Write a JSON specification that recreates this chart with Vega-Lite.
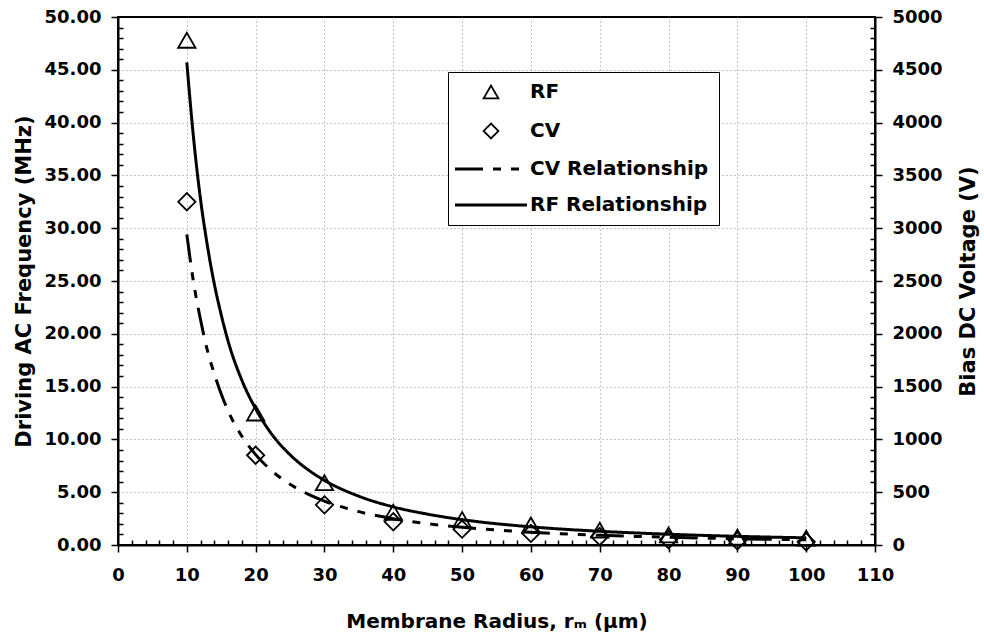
{
  "$schema": "https://vega.github.io/schema/vega-lite/v6.json",
  "width": 757,
  "height": 528,
  "autosize": {"type": "none"},
  "padding": {"left": 118, "top": 17, "right": 109, "bottom": 96},
  "background": "white",
  "config": {
    "font": "DejaVu Sans",
    "view": {"stroke": "black", "strokeWidth": 2},
    "axis": {
      "labelFont": "DejaVu Sans",
      "labelFontWeight": "bold",
      "labelFontSize": 18,
      "labelColor": "black",
      "labelOverlap": false,
      "labelFlush": false,
      "titleFont": "DejaVu Sans",
      "titleFontWeight": "bold",
      "titleFontSize": 21,
      "titleColor": "black",
      "domainColor": "black",
      "domainWidth": 2,
      "tickColor": "black",
      "tickWidth": 1.5,
      "tickCount": 200,
      "gridColor": "#8c8c8c",
      "gridDash": [1, 3],
      "gridWidth": 1
    }
  },
  "datasets": {
    "rf_measured": [
      {"r": 10, "freq": 47.8, "series": "RF"},
      {"r": 20, "freq": 12.5, "series": "RF"},
      {"r": 30, "freq": 5.9, "series": "RF"},
      {"r": 40, "freq": 3.1, "series": "RF"},
      {"r": 50, "freq": 2.4, "series": "RF"},
      {"r": 60, "freq": 1.9, "series": "RF"},
      {"r": 70, "freq": 1.4, "series": "RF"},
      {"r": 80, "freq": 0.95, "series": "RF"},
      {"r": 90, "freq": 0.75, "series": "RF"},
      {"r": 100, "freq": 0.65, "series": "RF"}
    ],
    "cv_measured": [
      {"r": 10, "volt": 3250, "series": "CV"},
      {"r": 20, "volt": 850, "series": "CV"},
      {"r": 30, "volt": 380, "series": "CV"},
      {"r": 40, "volt": 220, "series": "CV"},
      {"r": 50, "volt": 150, "series": "CV"},
      {"r": 60, "volt": 110, "series": "CV"},
      {"r": 70, "volt": 80, "series": "CV"},
      {"r": 80, "volt": 50, "series": "CV"},
      {"r": 90, "volt": 40, "series": "CV"},
      {"r": 100, "volt": 30, "series": "CV"}
    ],
    "rf_fit": [
      {"r": 10, "freq": 45.7, "series": "RF Relationship"},
      {"r": 11, "freq": 38.4, "series": "RF Relationship"},
      {"r": 12, "freq": 32.7, "series": "RF Relationship"},
      {"r": 13, "freq": 28.3, "series": "RF Relationship"},
      {"r": 14, "freq": 24.7, "series": "RF Relationship"},
      {"r": 15, "freq": 21.8, "series": "RF Relationship"},
      {"r": 16, "freq": 19.3, "series": "RF Relationship"},
      {"r": 18, "freq": 15.6, "series": "RF Relationship"},
      {"r": 20, "freq": 12.9, "series": "RF Relationship"},
      {"r": 22, "freq": 10.8, "series": "RF Relationship"},
      {"r": 25, "freq": 8.55, "series": "RF Relationship"},
      {"r": 28, "freq": 6.95, "series": "RF Relationship"},
      {"r": 30, "freq": 6.12, "series": "RF Relationship"},
      {"r": 35, "freq": 4.62, "series": "RF Relationship"},
      {"r": 40, "freq": 3.61, "series": "RF Relationship"},
      {"r": 45, "freq": 2.92, "series": "RF Relationship"},
      {"r": 50, "freq": 2.4, "series": "RF Relationship"},
      {"r": 60, "freq": 1.72, "series": "RF Relationship"},
      {"r": 70, "freq": 1.3, "series": "RF Relationship"},
      {"r": 80, "freq": 1.02, "series": "RF Relationship"},
      {"r": 90, "freq": 0.82, "series": "RF Relationship"},
      {"r": 100, "freq": 0.68, "series": "RF Relationship"}
    ],
    "cv_fit": [
      {"r": 10, "volt": 2940, "series": "CV Relationship"},
      {"r": 11, "volt": 2480, "series": "CV Relationship"},
      {"r": 12, "volt": 2130, "series": "CV Relationship"},
      {"r": 13, "volt": 1840, "series": "CV Relationship"},
      {"r": 14, "volt": 1620, "series": "CV Relationship"},
      {"r": 15, "volt": 1430, "series": "CV Relationship"},
      {"r": 16, "volt": 1270, "series": "CV Relationship"},
      {"r": 18, "volt": 1030, "series": "CV Relationship"},
      {"r": 20, "volt": 856, "series": "CV Relationship"},
      {"r": 22, "volt": 722, "series": "CV Relationship"},
      {"r": 25, "volt": 575, "series": "CV Relationship"},
      {"r": 28, "volt": 470, "series": "CV Relationship"},
      {"r": 30, "volt": 416, "series": "CV Relationship"},
      {"r": 35, "volt": 316, "series": "CV Relationship"},
      {"r": 40, "volt": 249, "series": "CV Relationship"},
      {"r": 45, "volt": 202, "series": "CV Relationship"},
      {"r": 50, "volt": 168, "series": "CV Relationship"},
      {"r": 60, "volt": 121, "series": "CV Relationship"},
      {"r": 70, "volt": 92, "series": "CV Relationship"},
      {"r": 80, "volt": 73, "series": "CV Relationship"},
      {"r": 90, "volt": 59, "series": "CV Relationship"},
      {"r": 100, "volt": 49, "series": "CV Relationship"}
    ]
  },
  "layer": [
    {
      "layer": [
        {
          "data": {"name": "rf_measured"},
          "mark": {"type": "point", "filled": false, "stroke": "black", "strokeWidth": 1.8, "size": 300, "opacity": 1},
          "encoding": {
            "x": {
              "field": "r", "type": "quantitative",
              "scale": {"domain": [0, 110], "nice": false},
              "axis": {
                "title": "Membrane Radius, rₘ (μm)",
                "titleFontSize": 20,
                "values": [0,2,4,6,8,10,12,14,16,18,20,22,24,26,28,30,32,34,36,38,40,42,44,46,48,50,52,54,56,58,60,62,64,66,68,70,72,74,76,78,80,82,84,86,88,90,92,94,96,98,100,102,104,106,108,110],
                "labelExpr": "datum.value % 10 === 0 ? format(datum.value, 'd') : ''",
                "tickSize": {"condition": {"test": "datum.value % 10 === 0", "value": 7}, "value": -5},
                "grid": true,
                "gridOpacity": {"condition": {"test": "datum.value % 10 === 0 && datum.value > 0 && datum.value < 110", "value": 1}, "value": 0},
                "labelPadding": 14,
                "titleY": 76,
                "titleBaseline": "middle"
              }
            },
            "y": {
              "field": "freq", "type": "quantitative",
              "scale": {"domain": [0, 50], "nice": false},
              "axis": {
                "title": "Driving AC Frequency (MHz)",
                "values": [0,1,2,3,4,5,6,7,8,9,10,11,12,13,14,15,16,17,18,19,20,21,22,23,24,25,26,27,28,29,30,31,32,33,34,35,36,37,38,39,40,41,42,43,44,45,46,47,48,49,50],
                "labelExpr": "datum.value % 5 === 0 ? format(datum.value, '.2f') : ''",
                "tickSize": {"condition": {"test": "datum.value % 5 === 0", "value": 7}, "value": -5},
                "grid": true,
                "gridOpacity": {"condition": {"test": "datum.value % 5 === 0 && datum.value > 0 && datum.value < 50", "value": 1}, "value": 0},
                "labelPadding": 10,
                "titleAngle": -90,
                "titleX": -94,
                "titleY": 264,
                "titleAlign": "center",
                "titleBaseline": "middle"
              }
            },
            "shape": {
              "field": "series", "type": "nominal",
              "scale": {"domain": ["RF", "CV", "CV Relationship", "RF Relationship"], "range": ["triangle-up", "diamond", "stroke", "stroke"]},
              "legend": {
                "title": null, "orient": "none", "legendX": 330, "legendY": 55,
                "strokeColor": "black", "fillColor": "white", "padding": 10, "rowPadding": 16,
                "symbolSize": 220, "symbolOffset": 23, "labelOffset": 29, "labelLimit": 400,
                "labelFont": "DejaVu Sans", "labelFontSize": 20, "labelFontWeight": "bold", "labelColor": "black",
                "symbolStrokeColor": "black", "symbolFillColor": "transparent", "symbolStrokeWidth": 2,
                "encode": {"symbols": {"update": {
                  "size": {"signal": "datum.value === 'CV Relationship' || datum.value === 'RF Relationship' ? 5184 : 220"},
                  "strokeWidth": {"signal": "datum.value === 'CV Relationship' || datum.value === 'RF Relationship' ? 3.2 : 1.8"}
                }}}
              }
            }
          }
        },
        {
          "data": {"name": "rf_fit"},
          "mark": {"type": "line", "color": "black", "strokeWidth": 3, "interpolate": "monotone"},
          "encoding": {
            "x": {"field": "r", "type": "quantitative"},
            "y": {"field": "freq", "type": "quantitative"},
            "strokeDash": {
              "field": "series", "type": "nominal",
              "scale": {"domain": ["RF", "CV", "CV Relationship", "RF Relationship"], "range": [[1, 0], [1, 0], [28, 10, 8, 10, 8, 10], [1, 0]]},
              "legend": {
                "title": null, "orient": "none", "legendX": 330, "legendY": 55,
                "strokeColor": "black", "fillColor": "white", "padding": 10, "rowPadding": 16,
                "symbolSize": 220, "symbolOffset": 23, "labelOffset": 29, "labelLimit": 400,
                "labelFont": "DejaVu Sans", "labelFontSize": 20, "labelFontWeight": "bold", "labelColor": "black",
                "symbolStrokeColor": "black", "symbolFillColor": "transparent", "symbolStrokeWidth": 2,
                "encode": {"symbols": {"update": {
                  "size": {"signal": "datum.value === 'CV Relationship' || datum.value === 'RF Relationship' ? 5184 : 220"},
                  "strokeWidth": {"signal": "datum.value === 'CV Relationship' || datum.value === 'RF Relationship' ? 3.2 : 1.8"}
                }}}
              }
            }
          }
        }
      ]
    },
    {
      "layer": [
        {
          "data": {"name": "cv_measured"},
          "mark": {"type": "point", "filled": false, "stroke": "black", "strokeWidth": 1.8, "size": 300, "opacity": 1},
          "encoding": {
            "x": {"field": "r", "type": "quantitative"},
            "y": {
              "field": "volt", "type": "quantitative",
              "scale": {"domain": [0, 5000], "nice": false},
              "axis": {
                "orient": "right",
                "title": "Bias DC Voltage (V)",
                "values": [0,100,200,300,400,500,600,700,800,900,1000,1100,1200,1300,1400,1500,1600,1700,1800,1900,2000,2100,2200,2300,2400,2500,2600,2700,2800,2900,3000,3100,3200,3300,3400,3500,3600,3700,3800,3900,4000,4100,4200,4300,4400,4500,4600,4700,4800,4900,5000],
                "labelExpr": "datum.value % 500 === 0 ? format(datum.value, 'd') : ''",
                "tickSize": {"condition": {"test": "datum.value % 500 === 0", "value": 7}, "value": -5},
                "grid": false,
                "labelPadding": 10,
                "titleAngle": -90,
                "titleX": 93,
                "titleY": 264,
                "titleAlign": "center",
                "titleBaseline": "middle"
              }
            },
            "shape": {
              "field": "series", "type": "nominal",
              "scale": {"domain": ["RF", "CV", "CV Relationship", "RF Relationship"], "range": ["triangle-up", "diamond", "stroke", "stroke"]},
              "legend": {
                "title": null, "orient": "none", "legendX": 330, "legendY": 55,
                "strokeColor": "black", "fillColor": "white", "padding": 10, "rowPadding": 16,
                "symbolSize": 220, "symbolOffset": 23, "labelOffset": 29, "labelLimit": 400,
                "labelFont": "DejaVu Sans", "labelFontSize": 20, "labelFontWeight": "bold", "labelColor": "black",
                "symbolStrokeColor": "black", "symbolFillColor": "transparent", "symbolStrokeWidth": 2,
                "encode": {"symbols": {"update": {
                  "size": {"signal": "datum.value === 'CV Relationship' || datum.value === 'RF Relationship' ? 5184 : 220"},
                  "strokeWidth": {"signal": "datum.value === 'CV Relationship' || datum.value === 'RF Relationship' ? 3.2 : 1.8"}
                }}}
              }
            }
          }
        },
        {
          "data": {"name": "cv_fit"},
          "mark": {"type": "line", "color": "black", "strokeWidth": 3, "interpolate": "monotone"},
          "encoding": {
            "x": {"field": "r", "type": "quantitative"},
            "y": {"field": "volt", "type": "quantitative"},
            "strokeDash": {
              "field": "series", "type": "nominal",
              "scale": {"domain": ["RF", "CV", "CV Relationship", "RF Relationship"], "range": [[1, 0], [1, 0], [28, 10, 8, 10, 8, 10], [1, 0]]},
              "legend": {
                "title": null, "orient": "none", "legendX": 330, "legendY": 55,
                "strokeColor": "black", "fillColor": "white", "padding": 10, "rowPadding": 16,
                "symbolSize": 220, "symbolOffset": 23, "labelOffset": 29, "labelLimit": 400,
                "labelFont": "DejaVu Sans", "labelFontSize": 20, "labelFontWeight": "bold", "labelColor": "black",
                "symbolStrokeColor": "black", "symbolFillColor": "transparent", "symbolStrokeWidth": 2,
                "encode": {"symbols": {"update": {
                  "size": {"signal": "datum.value === 'CV Relationship' || datum.value === 'RF Relationship' ? 5184 : 220"},
                  "strokeWidth": {"signal": "datum.value === 'CV Relationship' || datum.value === 'RF Relationship' ? 3.2 : 1.8"}
                }}}
              }
            }
          }
        }
      ]
    }
  ],
  "resolve": {"scale": {"y": "independent"}}
}
